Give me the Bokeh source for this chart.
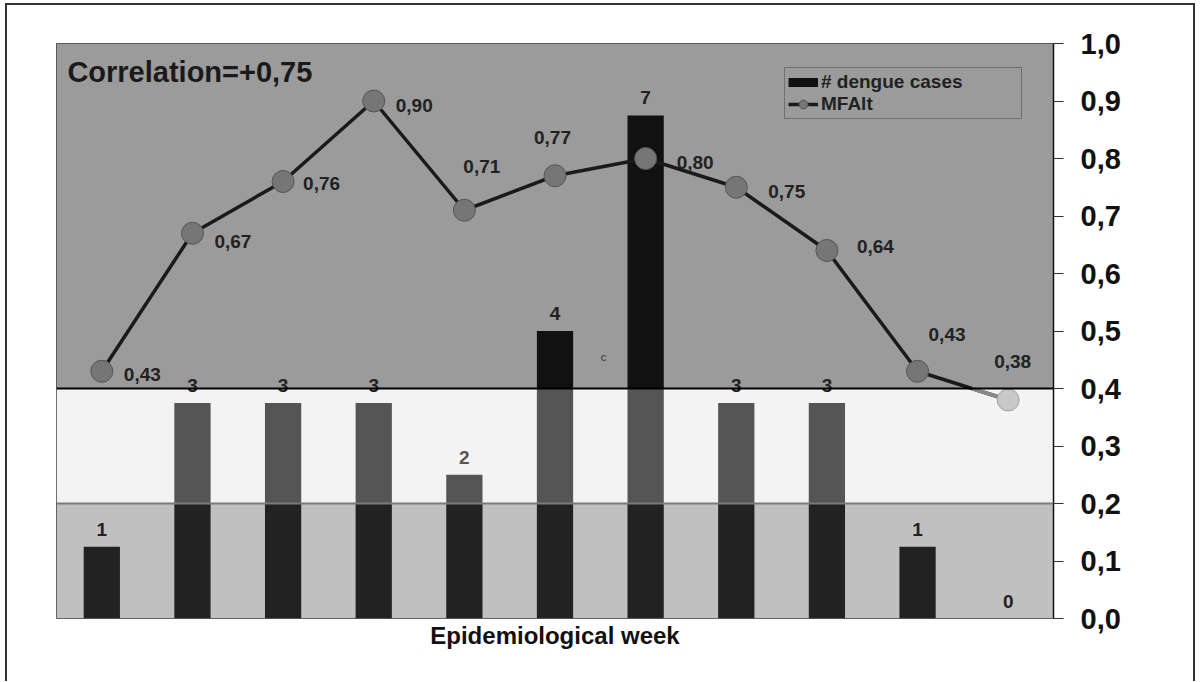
from bokeh.plotting import figure
from bokeh.models import (Range1d, Span, Legend, LegendItem, Label,
                          CustomJSTickFormatter, FixedTicker, ColumnDataSource)
from bokeh.embed import file_html
from bokeh.resources import INLINE
from bokeh.core.properties import value
import numpy as np

# ---------------- data ----------------
weeks = list(range(11))
cases = [1, 3, 3, 3, 2, 4, 7, 3, 3, 1, 0]
mfalt = [0.43, 0.67, 0.76, 0.90, 0.71, 0.77, 0.80, 0.75, 0.64, 0.43, 0.38]
mfalt_labels = ["0,43", "0,67", "0,76", "0,90", "0,71", "0,77", "0,80", "0,75", "0,64", "0,43", "0,38"]
band_bottoms = [0.0, 0.2, 0.4]
band_tops = [0.2, 0.4, 1.0]
y_ticks = [0.0, 0.1, 0.2, 0.3, 0.4, 0.5, 0.6, 0.7, 0.8, 0.9, 1.0]
correlation_text = "Correlation=+0,75"
x_title = "Epidemiological week"

# ---------------- layout / style ----------------
CASES_MAX = 8.0
band_colors = ["#c0c0c0", "#f3f3f3", "#9b9b9b"]
seg_colors = ["#222222", "#555555", "#111111"]
label_dx = [22, 22, 20, 22, -1, -21, 31, 32, 30, 11, -14]
label_dy = [3, 8, 2, 4, -44, -38, 4, 4, -4, -37, -39]
bar_label_colors = ["#222222", "#222222", "#222222", "#222222", "#555555", "#222222",
                    "#222222", "#222222", "#222222", "#222222", "#222222"]
FONT = "Liberation Sans"

p = figure(width=1190, height=678, output_backend="svg", toolbar_location=None,
           x_range=Range1d(-0.5, 10.5), y_range=Range1d(0, 1),
           y_axis_location="right", min_border_left=49, min_border_top=38,
           min_border_right=144, min_border_bottom=65)
p.styles = {"border-left": "2px solid #333333", "border-top": "2px solid #333333",
            "border-right": "2px solid #333333", "margin-left": "5px", "margin-top": "3px"}
p.extra_y_ranges = {"cases": Range1d(0, CASES_MAX)}
p.grid.visible = False
p.outline_line_color = "#444444"
p.outline_line_width = 1
p.background_fill_color = "#9b9b9b"
p.border_fill_color = "white"

# background bands
p.quad(left=-0.5, right=10.5, bottom=band_bottoms, top=band_tops,
       fill_color=band_colors, line_color=None)

# bars split by band (thresholds converted into case units)
c = np.array(cases, dtype=float)
lo = band_tops[0] * CASES_MAX / 1.0
hi = band_tops[1] * CASES_MAX / 1.0
seg_bottom = [np.zeros_like(c), np.full_like(c, lo), np.full_like(c, hi)]
seg_top = [np.minimum(c, lo), np.clip(c, lo, hi), np.maximum(c, hi)]
for b, t, col in zip(seg_bottom, seg_top, seg_colors):
    m = t > b
    p.vbar(x=np.array(weeks)[m], bottom=b[m], top=t[m], width=0.4,
           fill_color=col, line_color=None, y_range_name="cases")

# threshold lines
p.add_layout(Span(location=band_tops[0], dimension="width", line_color="#7a7a7a", line_width=2))
p.add_layout(Span(location=band_tops[1], dimension="width", line_color="#000000", line_width=2))

# MFAlt line
line_r = p.line(weeks, mfalt, line_color="#1a1a1a", line_width=3.5)

# portion of the line below the 0.4 threshold drawn lighter
thr = band_tops[1]
xs_low, ys_low = [], []
for i in range(len(weeks) - 1):
    x0, x1, y0, y1 = weeks[i], weeks[i + 1], mfalt[i], mfalt[i + 1]
    if y0 >= thr and y1 >= thr:
        continue
    if y0 < thr and y1 < thr:
        xs_low.append([x0, x1]); ys_low.append([y0, y1]); continue
    t = (thr - y0) / (y1 - y0)
    xc = x0 + t * (x1 - x0)
    if y0 < thr:
        xs_low.append([x0, xc]); ys_low.append([y0, thr])
    else:
        xs_low.append([xc, x1]); ys_low.append([thr, y1])
if xs_low:
    p.multi_line(xs_low, ys_low, line_color="#8a8a8a", line_width=3.5)

marker_fill = ["#767676" if v >= thr else "#c8c8c8" for v in mfalt]
marker_line = ["#555555" if v >= thr else "#a0a0a0" for v in mfalt]
sc_r = p.scatter(weeks, mfalt, size=22, fill_color=marker_fill, line_color=marker_line,
                 line_width=1)

# value labels
src = ColumnDataSource(dict(x=weeks, y=mfalt, t=mfalt_labels, dx=label_dx, dy=label_dy))
p.text(x="x", y="y", text="t", x_offset="dx", y_offset="dy", source=src,
       text_font=value(FONT), text_font_style="bold", text_font_size="19px",
       text_color="#222222", text_align="left", text_baseline="middle")

# bar labels
bsrc = ColumnDataSource(dict(x=weeks, y=cases, t=[str(v) for v in cases], col=bar_label_colors))
p.text(x="x", y="y", text="t", source=bsrc, y_range_name="cases", y_offset=-17.5,
       text_font=value(FONT), text_font_style="bold", text_font_size="19px",
       text_color="col", text_align="center", text_baseline="middle")

# annotations
p.add_layout(Label(x=-0.38, y=0.95, text=correlation_text, text_font=FONT,
                   text_font_style="bold", text_font_size="29px", text_color="#1a1a1a",
                   text_baseline="middle"))
p.add_layout(Label(x=5.535, y=0.454, text="c", text_font=FONT, text_font_size="11px",
                   text_color="#333333", text_align="center", text_baseline="middle"))

# axes
ya = p.yaxis[0]
ya.ticker = FixedTicker(ticks=y_ticks)
ya.formatter = CustomJSTickFormatter(code="return tick.toFixed(1).replace('.', ',');")
ya.major_label_text_font = FONT
ya.major_label_text_font_style = "bold"
ya.major_label_text_font_size = "29px"
ya.major_label_text_color = "#111111"
ya.major_tick_out = 10
ya.major_tick_in = 0
ya.minor_tick_line_color = None
ya.major_tick_line_color = "#333333"
ya.axis_line_color = "#111111"
ya.axis_line_width = 1.5
ya.major_label_standoff = 17

xa = p.xaxis[0]
xa.ticker = FixedTicker(ticks=[])
xa.axis_line_color = None
xa.major_tick_line_color = None
xa.minor_tick_line_color = None
xa.major_label_text_font_size = "0px"
xa.axis_label = x_title
xa.axis_label_text_font = FONT
xa.axis_label_text_font_style = "bold"
xa.axis_label_text_font_size = "24px"
xa.axis_label_text_color = "#111111"
xa.axis_label_standoff = 3

# legend (the bar entry uses a non-drawing thick line as its key swatch)
bar_key = p.line(x=[np.nan, np.nan], y=[np.nan, np.nan], line_color="#111111", line_width=9)
legend = Legend(items=[LegendItem(label="# dengue cases", renderers=[bar_key]),
                       LegendItem(label="MFAlt", renderers=[line_r, sc_r])],
                location=(728, 499), orientation="vertical",
                background_fill_alpha=0, border_line_color="#444444", border_line_width=1,
                label_text_font=FONT, label_text_font_style="bold",
                label_text_font_size="19px", label_text_color="#222222",
                glyph_width=30, glyph_height=22, label_height=20, label_standoff=3,
                spacing=0, padding=3, margin=0, label_width=197)
p.add_layout(legend)

open("out.html", "w").write(file_html(p, INLINE))
